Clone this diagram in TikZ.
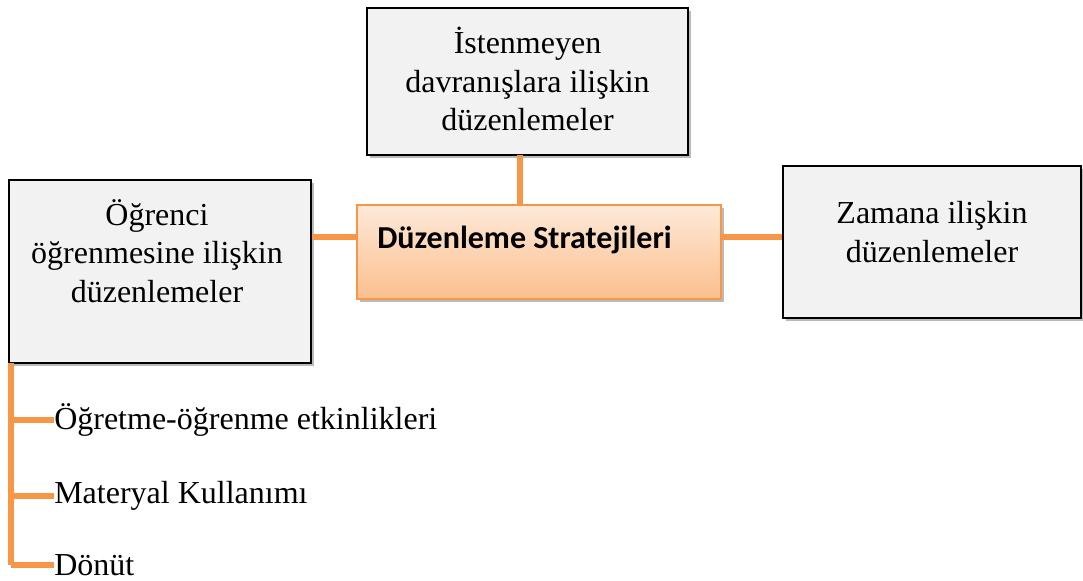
\documentclass[tikz,border=0pt]{standalone}
\usepackage{fontspec}
\setmainfont{Liberation Serif}
\newfontfamily\calfont{Carlito}
\usetikzlibrary{shadows}
\definecolor{conn}{HTML}{F79646}
\definecolor{boxfill}{HTML}{F2F2F2}
\definecolor{ctop}{HTML}{FDE9D9}
\definecolor{cbot}{HTML}{FBBF8D}
\tikzset{
  graybox/.style={draw=black, line width=1.5pt, fill=boxfill, rectangle, inner sep=0pt,
    drop shadow={shadow xshift=2pt, shadow yshift=-2pt, opacity=0.45, fill=black!60}},
  mainbox/.style={draw=conn, line width=1.2pt, rectangle, inner sep=0pt, top color=ctop, bottom color=cbot,
    drop shadow={shadow xshift=2pt, shadow yshift=-2pt, opacity=0.45, fill=black!60}},
  boxtext/.style={align=center, font=\fontsize{24}{29}\selectfont, inner sep=0pt},
  itemtext/.style={anchor=west, font=\fontsize{24}{29}\selectfont, inner sep=0pt},
  link/.style={draw=conn, line width=3.8pt}
}
\begin{document}
\begin{tikzpicture}[x=0.75pt, y=-0.75pt]
\useasboundingbox (0,0) rectangle (1083,581);
% boxes
\node[graybox, minimum width=321*0.75pt, minimum height=147*0.75pt] (top) at (527.5,81.5) {};
\node[graybox, minimum width=302*0.75pt, minimum height=183*0.75pt] (left) at (160,271.5) {};
\node[graybox, minimum width=298*0.75pt, minimum height=152*0.75pt] (right) at (932,242) {};
\node[mainbox, minimum width=364*0.75pt, minimum height=94*0.75pt] (center) at (539,252) {};
% texts
\node[boxtext] (toptext) at (527.5,79) {İstenmeyen\\davranışlara ilişkin\\düzenlemeler};
\node[boxtext] (lefttext) at (157,251) {Öğrenci\\öğrenmesine ilişkin\\düzenlemeler};
\node[boxtext] (righttext) at (932,232) {Zamana ilişkin\\düzenlemeler};
\node[anchor=west, inner sep=0pt, font=\calfont\bfseries\fontsize{24}{28}\selectfont] (centertext) at (377,240) {Düzenleme Stratejileri};
% connectors
\coordinate (tc) at (520,155);
\draw[link] (tc) -- (tc |- center.north);
\draw[link] (left.east |- 0,237) -- (center.west |- 0,237);
\draw[link] (center.east |- 0,237) -- (right.west |- 0,237);
% tree
\coordinate (t0) at (11,363);
\coordinate (t1) at (11,420);
\coordinate (t2) at (11,496);
\coordinate (t3) at (11,565);
\node[itemtext] (i1) at (54,420) {Öğretme-öğrenme etkinlikleri};
\node[itemtext] (i2) at (54,496) {Materyal Kullanımı};
\node[itemtext] (i3) at (54,565) {Dönüt};
\draw[link] (t0) -- (t3);
\draw[link] (t1) -- (i1.west);
\draw[link] (t2) -- (i2.west);
\draw[link] (t3) -- (i3.west);
\end{tikzpicture}
\end{document}
